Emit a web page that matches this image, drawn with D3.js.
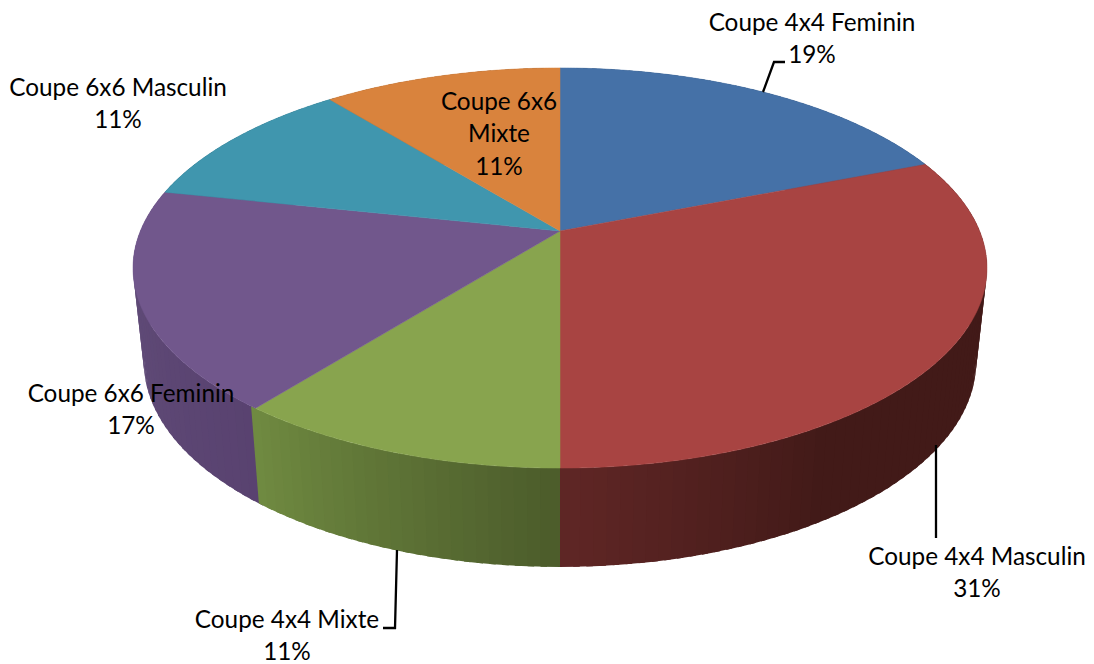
<!DOCTYPE html>
<html><head><meta charset="utf-8">
<script src="https://cdn.jsdelivr.net/npm/d3@7/dist/d3.min.js"></script>
<style>html,body{margin:0;padding:0;background:#fff}svg{display:block}text{font-family:Lato,"Open Sans",sans-serif;font-size:24.3px;fill:#000}</style>
</head><body><svg id="c" width="1094" height="664"></svg>
<script>
const categories = ["Coupe 4x4 Feminin","Coupe 4x4 Masculin","Coupe 4x4 Mixte","Coupe 6x6 Feminin","Coupe 6x6 Masculin","Coupe 6x6 Mixte"];
const values = [19, 31, 10.65, 17.7, 10.85, 10.8];
const percentLabels = ["19%","31%","11%","17%","11%","11%"];
const topColors = ["#4571a7","#a84442","#88a44e","#71578c","#4096ae","#d9833d"];
const wallColorsStart = ["#2c4a6e","#421a18","#4c5c2b","#594270","#2a6070","#8e5526"];
const wallColorsEnd = ["#2c4a6e","#5f2625","#708b41","#64517c","#2a6070","#8e5526"];
const labelLines = [["Coupe 4x4 Feminin","19%"],["Coupe 4x4 Masculin","31%"],["Coupe 4x4 Mixte","11%"],["Coupe 6x6 Feminin","17%"],["Coupe 6x6 Masculin","11%"],["Coupe 6x6","Mixte","11%"]];
const labelPos = [[812,31],[977,565],[287,628],[131,402],[118,96],[499,110]];
const lineGap = 32.3;
const leaders = [[[763,92],[774,62],[785,62]],[[936,445],[936,538]],[[397,550],[395,628],[383,628]]];

const svg = d3.select("#c");
const k = 0.185;
const topP = {x0:560,y0:231,B:419.6,A:193.2};
const botP = {x0:560,y0:324,B:409,A:198};
const project = (p,a)=>{const X=Math.sin(a),Y=-Math.cos(a),w=1-k*Y;return [p.x0+p.B*X/w,p.y0+p.A*Y/w];};

const arcs = d3.pie().sort(null).value(d=>d)(values);
const line = d3.line();
const step = Math.PI/180*1.5;

// side walls: narrow strips painted back-to-front, each overlapping the one behind it
const strips = [];
arcs.forEach((d,i)=>{
  const n = Math.max(1,Math.round((d.endAngle-d.startAngle)/step));
  const col = d3.scaleLinear().domain([0,0.72,1]).range([wallColorsStart[i],wallColorsStart[i],wallColorsEnd[i]]);
  const colG = d3.scaleLinear().domain([0,1]).range([wallColorsStart[i],wallColorsEnd[i]]);
  const sc = i===1 ? col : colG;
  d3.range(n).forEach(j=>{
    let a0=d.startAngle+(d.endAngle-d.startAngle)*j/n, a1=d.startAngle+(d.endAngle-d.startAngle)*(j+1)/n;
    const mid=(a0+a1)/2;
    if(mid<Math.PI) a0-=step*0.5; else a1+=step*0.5;
    strips.push({a0,a1,mid,i,c:sc((j+0.5)/n)});
  });
});
strips.sort((s,t)=>(-Math.cos(s.mid))-(-Math.cos(t.mid)));
svg.append("g").selectAll("path").data(strips).join("path")
  .attr("d",s=>line([project(topP,s.a0),project(topP,s.a1),project(botP,s.a1),project(botP,s.a0)])+"Z")
  .attr("fill",s=>s.c);

// top face
svg.append("g").selectAll("path").data(arcs).join("path")
  .attr("d",d=>{
    const n=Math.ceil((d.endAngle-d.startAngle)/(Math.PI/180*0.5));
    const pts=[[topP.x0,topP.y0]].concat(d3.range(n+1).map(j=>project(topP,d.startAngle+(d.endAngle-d.startAngle)*j/n)));
    return line(pts)+"Z";
  })
  .attr("fill",(d,i)=>topColors[i]).attr("stroke",(d,i)=>topColors[i]).attr("stroke-width",0.5).attr("stroke-linejoin","round");

// leader lines
svg.append("g").selectAll("path").data(leaders).join("path")
  .attr("d",d=>line(d)).attr("fill","none").attr("stroke","#000").attr("stroke-width",2.3);

// labels
const g = svg.append("g").selectAll("text").data(labelLines).join("text")
  .attr("text-anchor","middle")
  .attr("transform",(d,i)=>`translate(${labelPos[i][0]},${labelPos[i][1]})`);
g.selectAll("tspan").data(d=>d).join("tspan").attr("x",0).attr("y",(d,j)=>j*lineGap).text(d=>d);
</script></body></html>
